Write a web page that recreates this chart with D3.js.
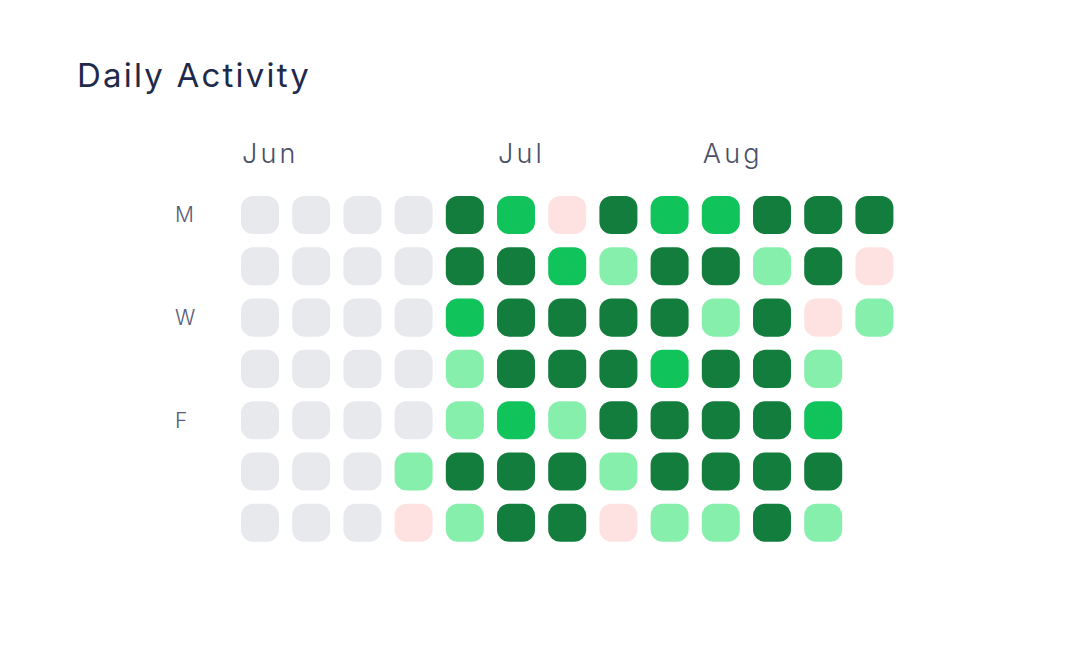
<!DOCTYPE html>
<html>
<head>
<meta charset="utf-8">
<script src="https://cdn.jsdelivr.net/npm/d3@7"></script>
<style>
  html, body { margin: 0; padding: 0; background: #ffffff; }
  svg { display: block; font-family: Inter, "Open Sans", sans-serif; }
</style>
</head>
<body>
<svg id="chart" width="1076" height="672"></svg>
<script>
// ---- Data ----
const title = "Daily Activity";
const gridStart = "2024-05-27";   // Monday of first column
const dataStart = "2024-06-22";   // first day with recorded activity
const weekCount = 13;
const dayLabels = ["M", "", "W", "", "F", "", ""];
const monthLabels = ["Jun", "Jul", "Aug"];
const monthDates = ["2024-06-01", "2024-07-01", "2024-08-01"];
// activity level per day from dataStart (0 = none, 1 = low, 2 = mid, 3 = high)
const levels = [
  1, 0,                   // Jun 22-23
  3, 3, 2, 1, 1, 3, 1,    // Jun 24-30
  2, 3, 3, 3, 2, 3, 3,    // Jul 1-7
  0, 2, 3, 3, 1, 3, 3,    // Jul 8-14
  3, 1, 3, 3, 3, 1, 0,    // Jul 15-21
  2, 3, 3, 2, 3, 3, 1,    // Jul 22-28
  2, 3, 1, 3, 3, 3, 1,    // Jul 29-Aug 4
  3, 1, 3, 3, 3, 3, 3,    // Aug 5-11
  3, 3, 0, 1, 2, 3, 1,    // Aug 12-18
  3, 0, 1                 // Aug 19-21
];
const levelColors = ["#fee2e2", "#86efac", "#10c35b", "#127d3c"];
const emptyColor = "#e7e9ed";

// ---- Build day cells ----
const parse = d3.timeParse("%Y-%m-%d");
const g0 = parse(gridStart), d0 = parse(dataStart);
const lastDay = d3.timeDay.offset(d0, levels.length - 1);
const days = d3.timeDay.range(g0, d3.timeDay.offset(lastDay, 1)).map(date => {
  const idx = d3.timeDay.count(d0, date);
  return {
    date,
    week: d3.timeMonday.count(g0, date),
    dow: (date.getDay() + 6) % 7,
    level: idx >= 0 ? levels[idx] : null
  };
});

// ---- Scales ----
const svg = d3.select("#chart");
const x = d3.scaleBand().domain(d3.range(weekCount)).range([241, 893.4]).paddingInner(0.258);
const y = d3.scaleBand().domain(d3.range(7)).range([196, 541.8]).paddingInner(0.258);

// Title
svg.append("text")
  .attr("x", 77).attr("y", 87)
  .attr("font-size", 33).attr("font-weight", 400)
  .attr("letter-spacing", 2.2)
  .attr("fill", "#1f2a4b")
  .text(title);

// Month labels
svg.append("g").selectAll("text")
  .data(monthLabels)
  .join("text")
  .attr("x", (m, i) => x(d3.timeMonday.count(g0, parse(monthDates[i]))) + 1)
  .attr("y", 163)
  .attr("font-size", 27).attr("font-weight", 300)
  .attr("letter-spacing", 3.2)
  .attr("fill", "#4a5068")
  .text(d => d);

// Day labels
svg.append("g").selectAll("text")
  .data(dayLabels)
  .join("text")
  .attr("x", 175)
  .attr("y", (d, i) => y(i) + y.bandwidth() / 2)
  .attr("dy", "0.35em")
  .attr("font-size", 21).attr("font-weight", 300)
  .attr("fill", "#555b78")
  .text(d => d);

// Cells
svg.append("g").selectAll("rect")
  .data(days)
  .join("rect")
  .attr("x", d => x(d.week))
  .attr("y", d => y(d.dow))
  .attr("width", x.bandwidth())
  .attr("height", y.bandwidth())
  .attr("rx", 12).attr("ry", 12)
  .attr("fill", d => d.level === null ? emptyColor : levelColors[d.level]);
</script>
</body>
</html>
